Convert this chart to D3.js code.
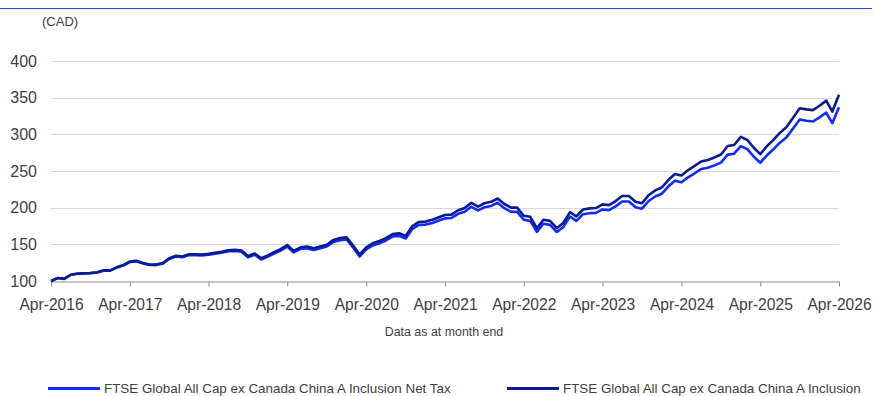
<!DOCTYPE html>
<html>
<head>
<meta charset="utf-8">
<script src="https://cdn.jsdelivr.net/npm/d3@7"></script>
<style>
  html, body { margin: 0; padding: 0; background: #fff; }
  svg { display: block; font-family: "Liberation Sans", Arial, sans-serif; }
</style>
</head>
<body>
<svg id="chart" width="874" height="396"></svg>
<script>
// Monthly index levels (CAD), Apr-2016 = 100, through Apr-2026
const startMonth = new Date(2016, 3, 1);

const grossValues = [
  100, 104, 103, 108.5, 110, 110.5, 111, 112, 114.5, 114.5, 119, 121.5,
  126.5, 127.5, 124.5, 122.5, 122.5, 124.5, 131, 134.5, 133.5, 136.5, 136.5, 136,
  137, 138.5, 140, 142, 142.5, 141.5, 134, 137.5, 131, 135, 139.5, 143.5,
  149, 141, 146, 147, 144.5, 147, 149.5, 156, 158.5, 159.5, 148, 136,
  146, 151.5, 154.5, 158.5, 164, 165, 161.5, 175, 180.5, 181, 183.5, 186.5,
  190, 190.5, 196.5, 199.5, 206.5, 201.5, 206, 208, 212.5, 205, 200, 200,
  189, 187.5, 172, 183.5, 182, 172, 179, 194, 188, 197.5, 199, 199.5,
  204.5, 203.5, 209, 216, 216, 208, 206, 217, 223.5, 227.5, 238, 246,
  244, 251, 257, 263, 265, 268.5, 272.5, 284, 285.5, 296.5, 292, 282,
  273, 283.5, 292.5, 302, 310, 323, 335.5, 334, 333, 339, 346, 331,
  354
];

const netTaxValues = [
  100, 104, 102.9, 108.4, 109.8, 110.3, 110.7, 111.7, 114.1, 114.1, 118.5, 121,
  125.9, 126.8, 123.8, 121.8, 121.7, 123.7, 130.1, 133.5, 132.4, 135.4, 135.3, 134.7,
  135.7, 137.1, 138.5, 140.5, 140.9, 139.9, 132.4, 135.8, 129.3, 133.2, 137.6, 141.5,
  146.9, 138.9, 143.8, 144.7, 142.2, 144.6, 147, 153.3, 155.7, 156.6, 145.3, 133.4,
  143.2, 148.5, 151.4, 155.3, 160.6, 161.5, 158, 171.2, 176.5, 176.9, 179.2, 182.1,
  185.4, 185.9, 191.6, 194.5, 201.2, 196.3, 200.6, 202.4, 206.7, 199.3, 194.4, 194.3,
  183.6, 182, 166.9, 178, 176.5, 166.7, 173.4, 187.9, 182, 191.1, 192.5, 192.9,
  197.6, 196.6, 201.8, 208.5, 208.4, 200.6, 198.6, 209.1, 215.3, 219, 229.1, 236.7,
  234.6, 241.3, 246.9, 252.6, 254.4, 257.7, 261.4, 272.3, 273.6, 284, 279.6, 269.9,
  261.2, 271.1, 279.6, 288.6, 296.1, 308.4, 320.2, 318.6, 317.5, 323.1, 329.7, 315.2,
  337
];

const yTicks = [100, 150, 200, 250, 300, 350, 400];
const xTickLabels = ["Apr-2016", "Apr-2017", "Apr-2018", "Apr-2019", "Apr-2020",
  "Apr-2021", "Apr-2022", "Apr-2023", "Apr-2024", "Apr-2025", "Apr-2026"];

const seriesNames = [
  "FTSE Global All Cap ex Canada China A Inclusion Net Tax",
  "FTSE Global All Cap ex Canada China A Inclusion"
];
const seriesColors = ["#0f2bff", "#0a1a8f"];

const months = grossValues.map((_, i) => new Date(2016, 3 + i, 1));

const svg = d3.select("#chart");
const plotLeft = 51, plotRight = 839, plotTop = 61, plotBottom = 281;

const x = d3.scaleTime()
  .domain([startMonth, new Date(2026, 3, 1)])
  .range([plotLeft, plotRight]);
const y = d3.scaleLinear().domain([100, 400]).range([plotBottom, plotTop]);

// top rule
svg.append("line")
  .attr("x1", 0).attr("x2", 872).attr("y1", 8.5).attr("y2", 8.5)
  .attr("stroke", "#2244ee").attr("stroke-width", 1);

// horizontal gridlines
svg.append("g")
  .selectAll("line")
  .data(yTicks.filter(v => v !== 100))
  .join("line")
  .attr("x1", plotLeft).attr("x2", plotRight)
  .attr("y1", d => Math.round(y(d)) + 0.5)
  .attr("y2", d => Math.round(y(d)) + 0.5)
  .attr("stroke", "#d9d9d9").attr("stroke-width", 1);

// y axis labels
const yAxis = d3.axisLeft(y).tickValues(yTicks).tickSize(0).tickPadding(0);
const gy = svg.append("g").attr("transform", `translate(${plotLeft - 14},0)`).call(yAxis);
gy.select(".domain").remove();
gy.selectAll("text")
  .attr("font-size", 16).attr("fill", "#404040")
  .attr("font-family", "Liberation Sans, Arial, sans-serif");

// x axis
const xTickDates = xTickLabels.map((_, i) => new Date(2016 + i, 3, 1));
const xAxis = d3.axisBottom(x)
  .tickValues(xTickDates)
  .tickFormat((d, i) => xTickLabels[i])
  .tickSize(5).tickSizeOuter(0).tickPadding(12);
const gx = svg.append("g").attr("transform", `translate(0,${Math.round(plotBottom) + 0.5})`).call(xAxis);
gx.select(".domain").attr("stroke", "#8c8c8c");
gx.selectAll(".tick line").attr("stroke", "#8c8c8c");
gx.selectAll("text")
  .attr("font-size", 15.6).attr("fill", "#404040")
  .attr("font-family", "Liberation Sans, Arial, sans-serif");

// unit label
svg.append("text")
  .attr("x", 42).attr("y", 26)
  .attr("font-size", 13).attr("fill", "#404040")
  .text("(CAD)");

// footnote
svg.append("text")
  .attr("x", 444).attr("y", 336)
  .attr("text-anchor", "middle")
  .attr("font-size", 12.4).attr("fill", "#404040")
  .text("Data as at month end");

// series lines
const line = d3.line()
  .x((d, i) => x(months[i]))
  .y(d => y(d));

[netTaxValues, grossValues].forEach((vals, k) => {
  svg.append("path")
    .datum(vals)
    .attr("d", line)
    .attr("fill", "none")
    .attr("stroke", seriesColors[k])
    .attr("stroke-width", 2.6)
    .attr("stroke-linejoin", "round");
});

// legend
const legendX = [48, 507];
seriesNames.forEach((name, k) => {
  const g = svg.append("g").attr("transform", `translate(${legendX[k]},388.5)`);
  g.append("line")
    .attr("x1", 0).attr("x2", 52).attr("y1", 0).attr("y2", 0)
    .attr("stroke", seriesColors[k]).attr("stroke-width", 3);
  g.append("text")
    .attr("x", 56).attr("y", 4.3)
    .attr("font-size", 13.4).attr("fill", "#404040")
    .text(name);
});
</script>
</body>
</html>
